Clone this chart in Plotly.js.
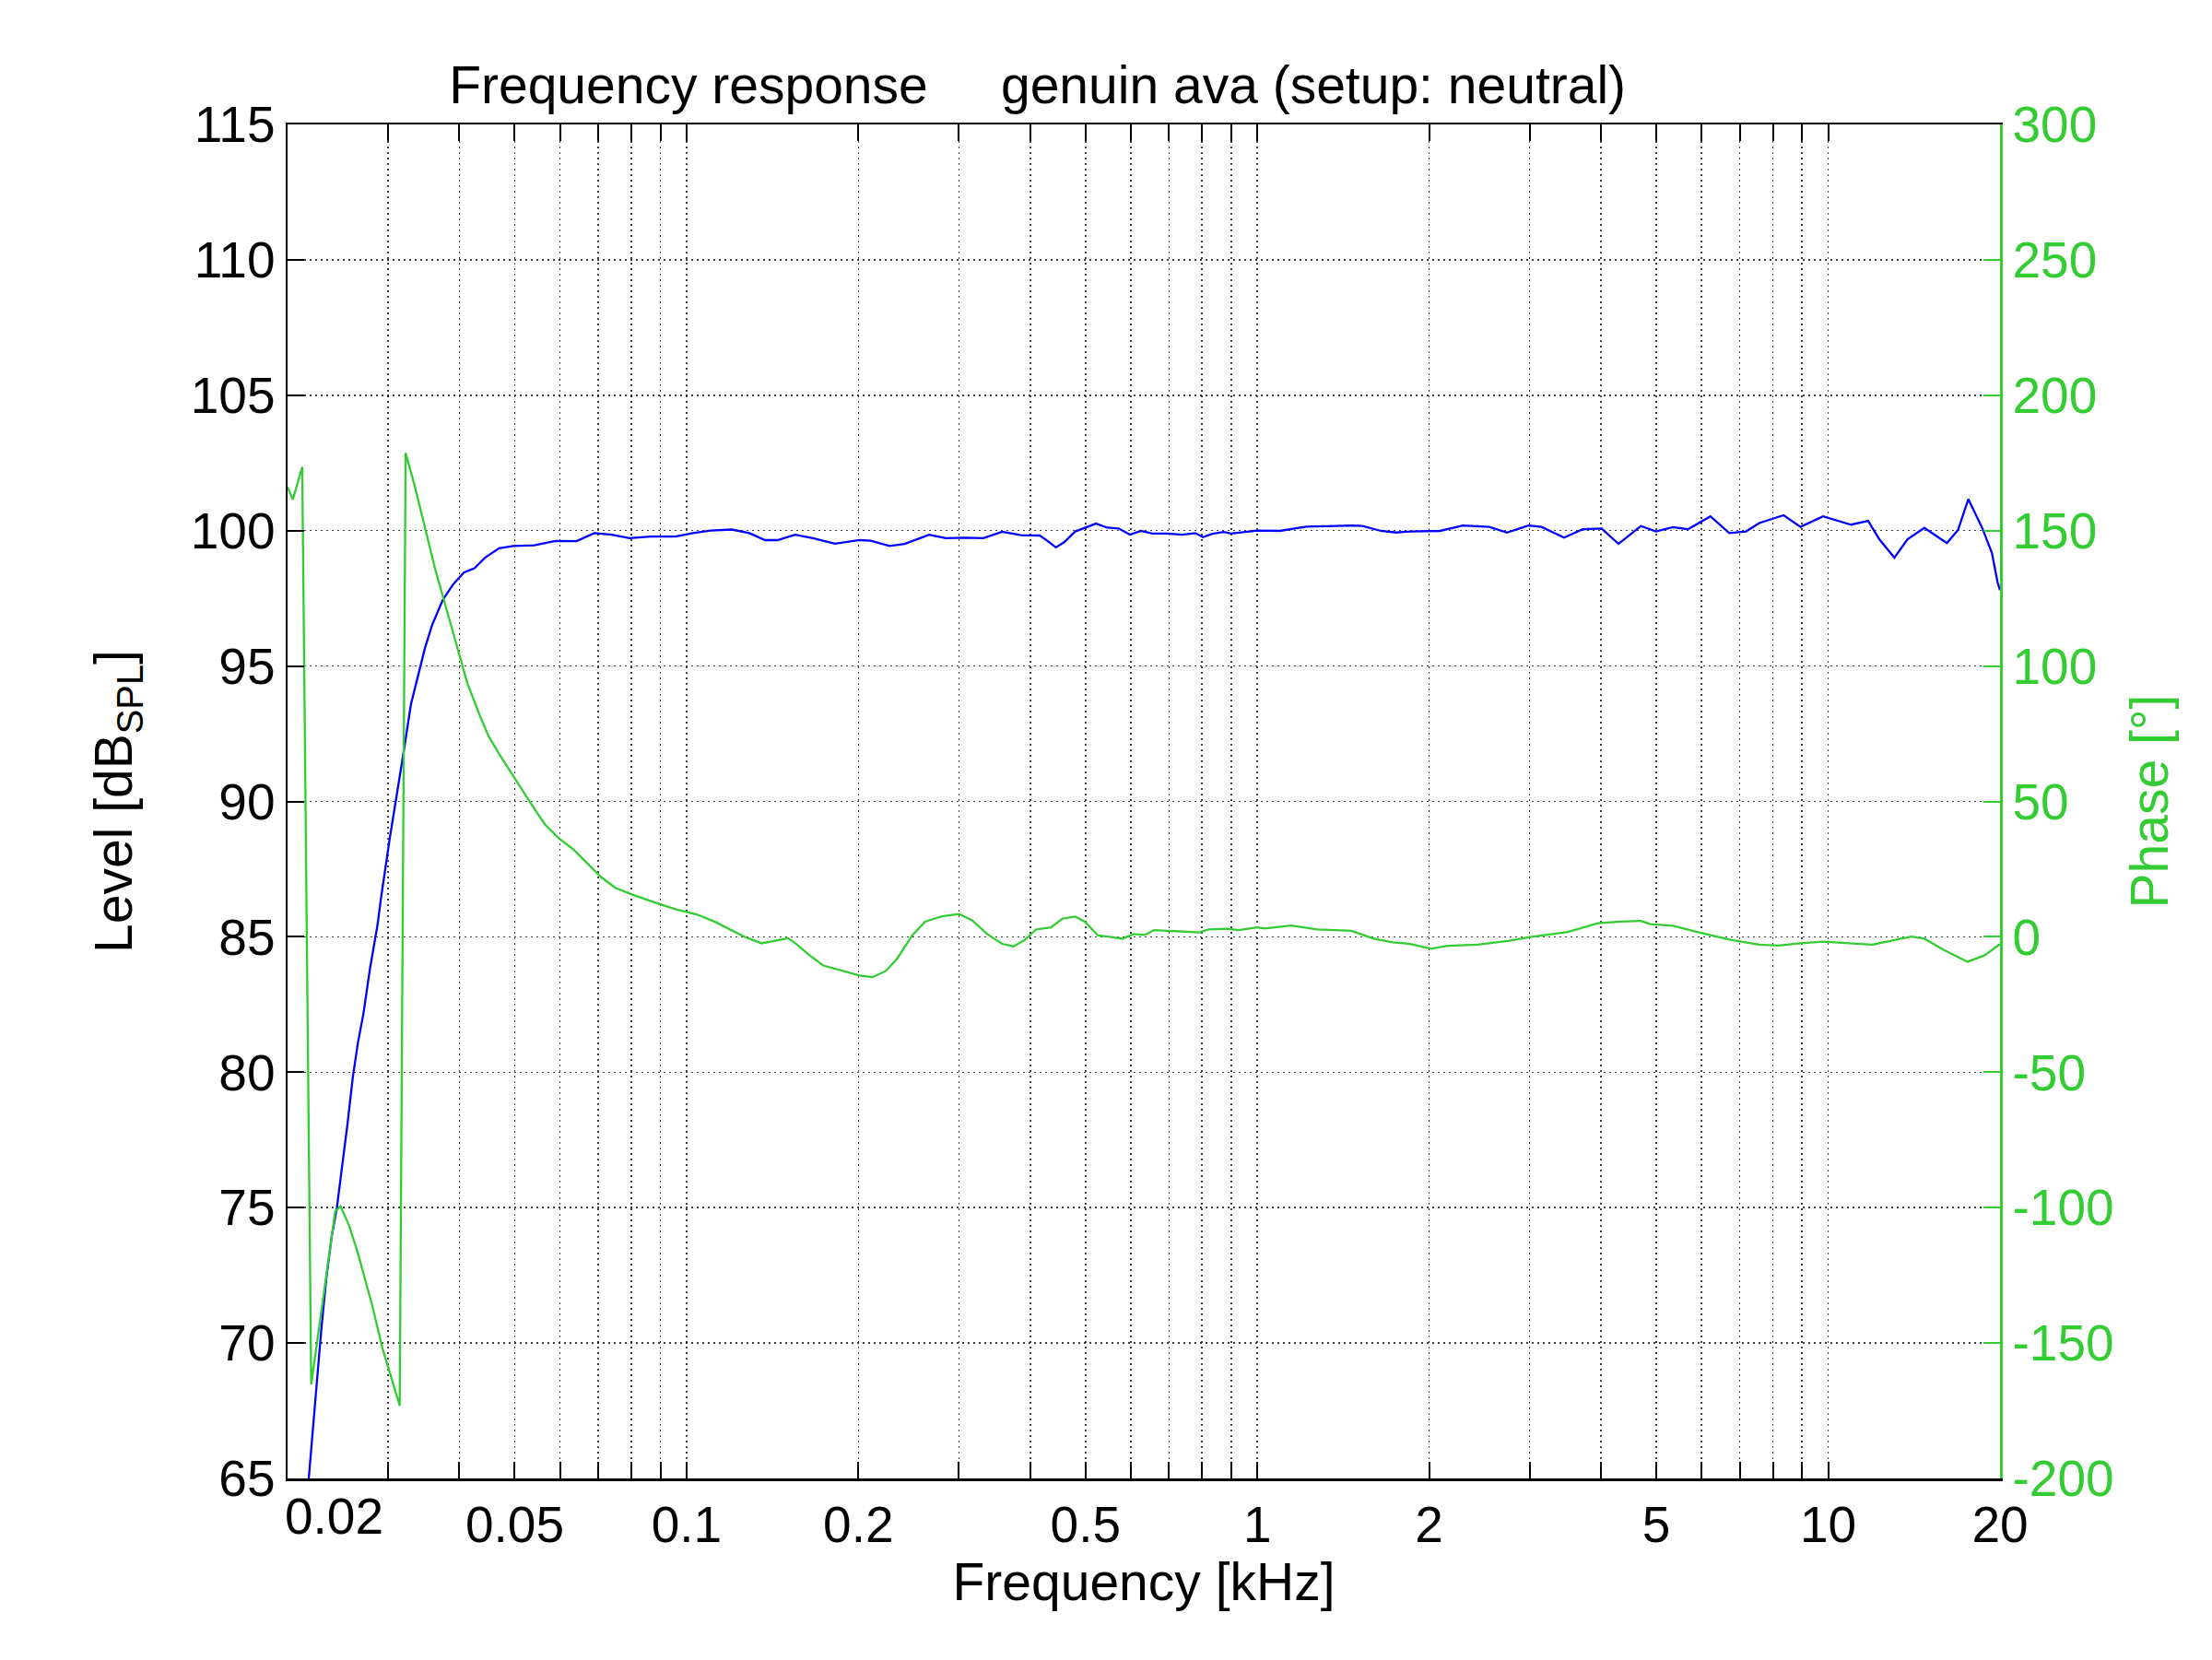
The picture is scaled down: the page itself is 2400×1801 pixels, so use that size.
<!DOCTYPE html>
<html>
<head>
<meta charset="utf-8">
<script src="https://cdn.plot.ly/plotly-3.0.1.min.js"></script>
<style>
  html, body { margin: 0; padding: 0; background: #ffffff; }
  #chart { width: 2400px; height: 1801px; }
</style>
</head>
<body>
<div id="chart"></div>
<script>
// Frequency (kHz) and level (dB SPL) of the blue curve
const levelFreq = [
  0.02178, 0.0221, 0.0224, 0.0229, 0.02338, 0.0239, 0.0244, 0.02494, 0.02548, 0.02602,
  0.02658, 0.02716, 0.0279, 0.02874, 0.02915, 0.0302, 0.03108, 0.03198, 0.0329, 0.03384,
  0.03482, 0.03584, 0.03738, 0.03901, 0.04072, 0.0425, 0.04435, 0.04694, 0.0497, 0.0541,
  0.05894, 0.06418, 0.0689, 0.074, 0.07944, 0.0865, 0.09556, 0.1026, 0.1102, 0.12,
  0.1288, 0.1373, 0.1443, 0.155, 0.1664, 0.182, 0.201, 0.2102, 0.2268, 0.241,
  0.266, 0.2846, 0.3072, 0.3312, 0.3572, 0.3854, 0.4156, 0.4284, 0.4436, 0.4586,
  0.4798, 0.5216, 0.5458, 0.5712, 0.598, 0.6254, 0.6546, 0.6954, 0.7388, 0.779,
  0.803, 0.834, 0.8728, 0.8996, 0.9414, 1.0, 1.095, 1.218, 1.375, 1.461,
  1.528, 1.646, 1.75, 1.852, 2.09, 2.29, 2.546, 2.738, 2.984, 3.146,
  3.446, 3.716, 4.008, 4.292, 4.70, 4.992, 5.346, 5.68, 6.218, 6.71,
  7.18, 7.572, 8.354, 8.944, 9.796, 10.41, 10.97, 11.75, 12.29, 13.06,
  13.77, 14.74, 16.14, 16.88, 17.6, 18.63, 19.36, 19.8, 20.0
];
const levelDb = [
  64.97, 66.51, 68.21, 70.42, 72.38, 73.94, 74.99, 76.55, 78.12, 79.81,
  81.12, 82.16, 83.85, 85.42, 86.41, 88.63, 90.20, 91.89, 93.59, 94.63,
  95.67, 96.52, 97.43, 98.02, 98.45, 98.61, 99.0, 99.35, 99.43, 99.46,
  99.62, 99.61, 99.91, 99.85, 99.72, 99.78, 99.78, 99.91, 100.0, 100.04,
  99.91, 99.65, 99.65, 99.85, 99.72, 99.52, 99.65, 99.63, 99.43, 99.51,
  99.85, 99.72, 99.74, 99.72, 99.96, 99.83, 99.82, 99.63, 99.38, 99.57,
  99.97, 100.26, 100.11, 100.08, 99.85, 99.99, 99.89, 99.89, 99.85, 99.91,
  99.76, 99.88, 99.95, 99.89, 99.93, 100.0, 99.99, 100.15, 100.17, 100.19,
  100.17, 99.99, 99.93, 99.97, 99.99, 100.19, 100.14, 99.93, 100.19, 100.14,
  99.74, 100.05, 100.08, 99.51, 100.17, 99.97, 100.13, 100.05, 100.53, 99.91,
  99.97, 100.28, 100.57, 100.14, 100.53, 100.36, 100.22, 100.36, 99.68, 99.0,
  99.68, 100.1, 99.54, 100.02, 101.16, 100.08, 99.17, 98.1, 97.8
];

// Frequency (kHz) and phase (degrees) of the green curve
const phaseFreq = [
  0.02, 0.02043, 0.02122, 0.02163, 0.0220, 0.02424, 0.02476, 0.02564, 0.02658, 0.02813,
  0.02936, 0.03065, 0.03144, 0.0322, 0.03338, 0.03482, 0.03632, 0.03766, 0.03901, 0.04015,
  0.0413, 0.0434, 0.045, 0.04694, 0.0504, 0.05337, 0.05648, 0.05978, 0.06326, 0.06698,
  0.0709, 0.07504, 0.08058, 0.08774, 0.09556, 0.1041, 0.1117, 0.12, 0.127, 0.1354,
  0.1423, 0.1506, 0.156, 0.164, 0.1736, 0.182, 0.201, 0.2118, 0.2234, 0.2338,
  0.2484, 0.2618, 0.2804, 0.3002, 0.3164, 0.3362, 0.3572, 0.3738, 0.3912, 0.4094,
  0.435, 0.4552, 0.4798, 0.4986, 0.5256, 0.5542, 0.58, 0.6068, 0.6352, 0.6594,
  0.7006, 0.7616, 0.791, 0.8212, 0.886, 0.9274, 1.0, 1.03, 1.146, 1.274,
  1.461, 1.599, 1.725, 1.852, 2.013, 2.154, 2.432, 2.746, 3.008, 3.498,
  3.95, 4.324, 4.70, 4.88, 5.346, 5.942, 6.71, 7.572, 8.166, 8.944,
  9.796, 10.89, 11.93, 13.06, 13.98, 14.74, 15.9, 17.54, 18.78, 19.89, 20.0
];
const phaseDeg = [
  166.1, 161.5, 173.5, 0, -165.3, -101.4, -99.5, -106.6, -117.1, -136.0,
  -152.3, -165.3, -173.2, 178.7, 166.7, 151.1, 135.4, 123.7, 111.9, 102.8,
  93.7, 81.9, 74.1, 67.6, 57.2, 49.3, 41.5, 36.3, 32.4, 27.2,
  22.0, 18.1, 15.5, 12.8, 10.2, 8.3, 5.7, 2.4, -0.2, -2.4,
  -1.5, -0.5, -2.8, -6.7, -10.6, -11.8, -14.3, -14.9, -12.6, -8.1,
  0.5, 5.6, 7.6, 8.4, 6.1, 1.0, -2.6, -3.5, -1.2, 2.7,
  3.5, 6.7, 7.5, 5.6, 0.5, -0.1, -0.7, 1.0, 0.7, 2.5,
  2.2, 1.8, 1.6, 2.7, 3.0, 2.5, 3.5, 3.1, 4.2, 2.7,
  2.2, -0.7, -2.0, -2.6, -4.4, -3.3, -2.9, -1.5, -0.1, 1.8,
  5.0, 5.6, 5.9, 4.7, 4.1, 1.6, -1.0, -2.9, -3.2, -2.4,
  -1.8, -2.4, -2.9, -1.2, 0.1, -0.7, -4.7, -9.2, -6.9, -3.0, -2.7
];

// Axis ticks
const xMajorVals = [0.05, 0.1, 0.2, 0.5, 1, 2, 5, 10, 20];
const xMajorText = ['0.05', '0.1', '0.2', '0.5', '1', '2', '5', '10', '20'];
const xMinorVals = [0.02, 0.03, 0.04, 0.06, 0.07, 0.08, 0.09,
  0.3, 0.4, 0.6, 0.7, 0.8, 0.9, 3, 4, 6, 7, 8, 9];
const firstXLabel = '0.02';
const levelRange = [65, 115];
const levelTickVals = [65, 70, 75, 80, 85, 90, 95, 100, 105, 110, 115];
const phaseRange = [-200, 300];
const phaseTickVals = [-200, -150, -100, -50, 0, 50, 100, 150, 200, 250, 300];
const phaseTickText = ['-200', '-150', '-100', '-50', '0', '50', '100', '150', '200', '250', '300'];

const GREEN = '#33cc33';
const FONT = 'Liberation Sans, Arial, Helvetica, sans-serif';
const TICK = 55;
const GRIDCOL = 'rgba(0,0,0,0.75)';
const GRIDDASH = '2px,4px';

const traces = [
  {
    x: levelFreq, y: levelDb, type: 'scatter', mode: 'lines',
    line: { color: '#0000ff', width: 2.3 }, xaxis: 'x', yaxis: 'y',
    hoverinfo: 'skip', showlegend: false
  },
  {
    x: phaseFreq, y: phaseDeg, type: 'scatter', mode: 'lines',
    line: { color: GREEN, width: 2.3 }, xaxis: 'x', yaxis: 'y2',
    hoverinfo: 'skip', showlegend: false
  }
];

const layout = {
  width: 2400, height: 1801,
  paper_bgcolor: '#ffffff', plot_bgcolor: '#ffffff',
  margin: { l: 312, r: 230, t: 135, b: 197, pad: 0 },
  font: { family: FONT, color: '#000000', size: TICK },
  showlegend: false,
  title: {
    text: 'Frequency response&nbsp;&nbsp;&nbsp;&nbsp;&nbsp;genuin ava (setup: neutral)',
    font: { family: FONT, size: 57, color: '#000000' },
    xref: 'container', x: 0.469, xanchor: 'center',
    yref: 'container', y: 0.949, yanchor: 'middle'
  },
  xaxis: {
    type: 'log',
    range: [Math.log10(0.02), Math.log10(20)],
    tickmode: 'array', tickvals: xMajorVals, ticktext: xMajorText,
    ticks: 'inside', ticklen: 18, tickwidth: 2, tickcolor: '#000000',
    minor: {
      tickmode: 'array', tickvals: xMinorVals,
      ticks: 'inside', ticklen: 18, tickwidth: 2, tickcolor: '#000000',
      showgrid: true, gridcolor: GRIDCOL, gridwidth: 1.5, griddash: GRIDDASH
    },
    showline: true, linecolor: '#000000', linewidth: 2.5, mirror: 'ticks',
    showgrid: true, gridcolor: GRIDCOL, gridwidth: 1.5, griddash: GRIDDASH,
    zeroline: false,
    tickfont: { family: FONT, size: TICK, color: '#000000' },
    title: { text: 'Frequency [kHz]', font: { family: FONT, size: 57, color: '#000000' }, standoff: 12 },
    automargin: false
  },
  yaxis: {
    range: levelRange, tickmode: 'array', tickvals: levelTickVals,
    ticks: 'inside', ticklen: 18, tickwidth: 2, tickcolor: '#000000',
    showline: true, linecolor: '#000000', linewidth: 2.5, mirror: false,
    showgrid: true, gridcolor: GRIDCOL, gridwidth: 1.5, griddash: GRIDDASH,
    zeroline: false,
    tickfont: { family: FONT, size: TICK, color: '#000000' },
    title: { text: 'Level [dB<sub>SPL</sub>]', font: { family: FONT, size: 57, color: '#000000' }, standoff: 45 },
    automargin: false
  },
  yaxis2: {
    overlaying: 'y', side: 'right', anchor: 'x',
    range: phaseRange, tickmode: 'array', tickvals: phaseTickVals, ticktext: phaseTickText,
    ticks: 'inside', ticklen: 18, tickwidth: 2, tickcolor: GREEN,
    showline: true, linecolor: GREEN, linewidth: 2.5,
    showgrid: false, zeroline: false,
    tickfont: { family: FONT, size: TICK, color: GREEN },
    title: { text: 'Phase [°]', font: { family: FONT, size: 57, color: GREEN }, standoff: 20 },
    automargin: false
  },
  annotations: [
    {
      text: firstXLabel, xref: 'x', yref: 'paper',
      x: Math.log10(0.02417), y: 0, xanchor: 'center', yanchor: 'top',
      yshift: -8, showarrow: false,
      font: { family: FONT, size: TICK, color: '#000000' }
    }
  ]
};

Plotly.newPlot('chart', traces, layout, { staticPlot: true, displayModeBar: false });
</script>
</body>
</html>
